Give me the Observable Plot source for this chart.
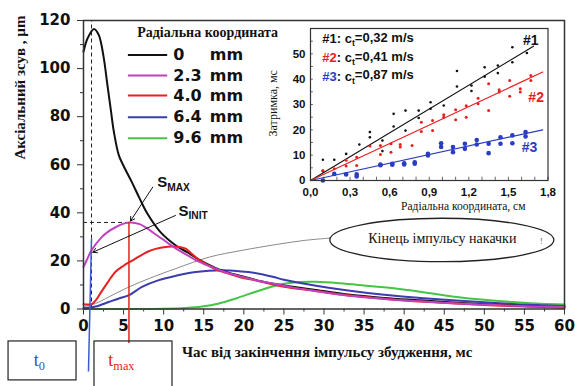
<!DOCTYPE html>
<html><head><meta charset="utf-8">
<script src="https://cdn.jsdelivr.net/npm/d3@7"></script>
<script src="https://cdn.jsdelivr.net/npm/@observablehq/plot@0.6"></script>
<style>
body{margin:0;background:#fff}
#wrap{position:relative;width:575px;height:386px;overflow:hidden;background:#fff}
#wrap svg.main{position:absolute;left:0;top:0}
#wrap svg.inset{position:absolute;left:262px;top:21px}
</style></head><body><div id="wrap"></div>
<script>
// ---------- main chart data (time, ms -> axial displacement, µm) ----------
const t0mm = [0, 0.5, 1.3, 1.9, 2.5, 2.95, 3.4, 3.8, 4.4, 5, 6, 7, 8, 9.6, 11.7, 13, 14.4, 16.5, 18, 20, 23, 25, 29, 33, 37.5, 42, 46, 50, 54, 57, 60];
const v0mm = [107, 112.5, 116.5, 114, 105, 94, 83, 73.5, 64, 59.5, 53, 46, 39.5, 32, 26, 23.5, 20.5, 17, 15.2, 13.4, 10.9, 9.8, 7.9, 6.0, 4.6, 3.6, 2.7, 2.0, 1.4, 1.0, 0.7];
const t23 = [0, 0.5, 1, 2.3, 3, 4, 5, 5.9, 7, 7.75, 8.8, 9.8, 10.8, 11.9, 13, 14, 15.2, 16.5, 18, 19.8, 21.5, 23.6, 26, 29, 33, 37.5, 42, 46, 50, 54, 57, 60];
const v23 = [17.5, 21, 24.4, 30, 32, 34, 35.5, 36, 35.3, 34, 31.5, 29.2, 26.8, 24.4, 22.3, 20.3, 18.5, 16.8, 15.0, 13.4, 12, 10.6, 9, 7.4, 5.5, 4.2, 3.2, 2.4, 1.8, 1.3, 1.0, 0.8];
const t40 = [0, 1, 1.5, 2.2, 3, 4, 5, 6, 7, 8, 9, 10, 11, 12, 12.8, 13.5, 14.4, 15.5, 16.5, 18, 19.8, 21, 23.6, 25, 29, 33, 37.5, 42, 46, 50, 54, 57, 60];
const v40 = [2, 2, 3.5, 7, 11, 15.5, 18, 20, 22, 23.8, 25, 25.7, 26, 25.8, 25, 23, 20.5, 18.3, 16.5, 14.8, 13, 12.3, 10.2, 9.3, 7.5, 5.7, 4.3, 3.1, 2.4, 1.7, 1.1, 0.8, 0.5];
const t64 = [0, 1.5, 3.2, 4.5, 5.7, 7.3, 9.4, 11.5, 14, 17.3, 19.8, 21, 23.6, 25, 29, 33, 37.5, 42, 46, 50, 54, 57, 60];
const v64 = [0.3, 1, 3, 4.5, 5.8, 9.2, 12, 13.8, 15.4, 16.1, 15.6, 15.2, 13.4, 12.2, 9.7, 7.7, 5.9, 4.6, 3.6, 2.8, 2.0, 1.6, 1.3];
const t96 = [0, 5, 10, 12.75, 14.8, 16.9, 19, 21.5, 24, 25, 27, 29, 32, 35, 37.5, 42, 46, 50, 54, 57, 60];
const v96 = [0, 0, 0.1, 0.4, 1, 2.3, 4.4, 7.2, 9.8, 10.5, 11.2, 11.3, 10.7, 9.8, 9, 7.2, 5.2, 3.8, 2.8, 2.2, 1.9];
const tPump = [0, 1.5, 3.2, 5.7, 8.2, 11.5, 15.7, 19.8, 24, 27.5, 30.8];
const vPump = [1, 2.3, 5.1, 9.2, 12.7, 16.8, 21.6, 24.4, 26.8, 28.5, 29.5];

const yMajor = [0, 20, 40, 60, 80, 100, 120];
const yMinor = [10, 30, 50, 70, 90, 110];
const xMajor = [0, 5, 10, 15, 20, 25, 30, 35, 40, 45, 50, 55, 60];
const xMinor = [2.5, 7.5, 12.5, 17.5, 22.5, 27.5, 32.5, 37.5, 42.5, 47.5, 52.5, 57.5];

const legendTitle = "Радіальна координата";
const legendLabels = ["0", "2.3", "4.0", "6.4", "9.6"];
const legendColors = ["#111111", "#c040c0", "#e82020", "#3a3cb0", "#45c445"];
const legendRowV = [105.7, 97.1, 88.8, 79.8, 71.0];
const legendLineT = [5.6, 10.5];

// annotation values
const tInit = 1.0, tMax = 5.67, sMax = 36;
const xTitle = "Час від закінчення імпульсу збудження, мс";
const yTitle = "Аксіальний зсув , µm";
const pumpNote = "Кінець імпульсу накачки";
const pumpEllipse = {t: 44.76, v: 28.5, rt: 13.97, rv: 9.03};

// ---------- inset data (radial coordinate, cm -> delay, ms) ----------
const r1 = [0.094, 0.094, 0.18, 0.27, 0.37, 0.45, 0.45, 0.545, 0.545, 0.63, 0.63, 0.72, 0.72, 0.82, 0.82, 0.91, 0.91, 1.01, 1.11, 1.11, 1.22, 1.22, 1.32, 1.32, 1.42, 1.42, 1.53, 1.53, 1.64];
const d1 = [8.2, 3.7, 8.2, 10.5, 14.2, 19.1, 17.1, 15.8, 11.6, 26.3, 21.3, 27.6, 19.7, 27.6, 24.7, 30.9, 28.3, 29.6, 43.2, 37.1, 37.5, 35.3, 44.7, 41, 45.4, 42.4, 52.6, 46.7, 50.3];
const r2 = [0.094, 0.18, 0.27, 0.27, 0.35, 0.35, 0.45, 0.53, 0.53, 0.61, 0.61, 0.68, 0.68, 0.77, 0.84, 0.84, 0.925, 0.925, 1.01, 1.01, 1.1, 1.1, 1.18, 1.18, 1.27, 1.27, 1.35, 1.35, 1.43, 1.43, 1.51, 1.51, 1.59, 1.59, 1.67, 1.67];
const d2 = [3.9, 4.6, 8, 5.7, 9.2, 5.9, 13.6, 13.8, 10.3, 14.5, 11.2, 14.2, 13.2, 13.8, 23, 19.3, 23.7, 19.7, 26, 25, 27.9, 24, 29.5, 25, 32.5, 30.3, 38.2, 27.6, 35.8, 34.9, 39.5, 33.3, 36.2, 34.9, 41.4, 39.5];
const r3 = [0.094, 0.18, 0.27, 0.35, 0.35, 0.53, 0.53, 0.62, 0.62, 0.71, 0.71, 0.79, 0.79, 0.89, 0.89, 0.99, 0.99, 1.08, 1.08, 1.17, 1.17, 1.26, 1.26, 1.35, 1.35, 1.44, 1.44, 1.53, 1.53, 1.63, 1.63];
const d3v = [0, 2.6, 2.4, 2.4, 1.6, 6.3, 6, 6.6, 6.2, 6.8, 6.3, 7.2, 6.6, 10.5, 9.9, 14.7, 13.2, 13.2, 11.2, 14.5, 12.5, 16, 14.2, 14.5, 10.8, 17.1, 14.5, 17.8, 14.7, 19.1, 17.4];
const fitR = [[0, 1.69], [0, 1.76], [0, 1.76]];
const fitD = [[0, 53], [0, 42.8], [0, 20]];
const insetColors = ["#111111", "#e82020", "#2a3cc0"];
const insetNames = ["#1", "#2", "#3"];
const insetSpeeds = [": c|t|=0,32 m/s", ": c|t|=0,41 m/s", ": c|t|=0,87 m/s"];
const insetLegendV = [55.9, 48.4, 41.0];
const insetTagR = [1.67, 1.71, 1.66];
const insetTagD = [55.2, 32.9, 13.1];
const insetXTicks = [0, 0.3, 0.6, 0.9, 1.2, 1.5, 1.8];
const insetXMinor = [0.1, 0.2, 0.4, 0.5, 0.7, 0.8, 1.0, 1.1, 1.3, 1.4, 1.6, 1.7];
const insetYTicks = [0, 10, 20, 30, 40, 50];
const insetYMinor = [5, 15, 25, 35, 45, 55];
const insetXTitle = "Радіальна координата, см";
const insetYTitle = "Затримка, мс";

const SERIF = "Liberation Serif, Times New Roman, serif";
const SANS = "Liberation Sans, Arial, sans-serif";

function subscripts(svg) {
  d3.select(svg).selectAll("text").each(function () {
    const s = this.textContent;
    if (!s.includes("|")) return;
    const [a, b, c] = s.split("|");
    const el = d3.select(this);
    el.text(null);
    el.append("tspan").text(a);
    el.append("tspan").attr("dy", "0.32em").attr("font-size", "68%").text(b);
    if (c) el.append("tspan").attr("dy", "-0.32em").text(c);
  });
}

const line = (t, v, stroke, w = 2) => Plot.line(v, {x: t, y: v, stroke, strokeWidth: w, curve: "catmull-rom"});

const main = Plot.plot({
  width: 575, height: 386,
  marginLeft: 83, marginRight: 11, marginTop: 20, marginBottom: 77.5,
  x: {domain: [0, 60]},
  y: {domain: [0, 120]},
  color: {type: "identity"},
  style: {fontFamily: "DejaVu Sans", fontSize: "15px", fontWeight: "bold", color: "#111", background: "white"},
  marks: [
    Plot.axisY({ticks: yMajor, tickSize: 6, tickPadding: 7, label: null, stroke: "#333"}),
    Plot.axisY({ticks: yMinor, tickSize: 3, tickFormat: () => "", label: null, stroke: "#333"}),
    Plot.axisX({ticks: xMajor, tickSize: 6, tickPadding: 5, label: null, stroke: "#333"}),
    Plot.axisX({ticks: xMinor, tickSize: 3, tickFormat: () => "", label: null, stroke: "#333"}),
    Plot.ruleX([tInit], {y1: 0, y2: 120, stroke: "#222", strokeWidth: 1, strokeDasharray: "4,3"}),
    Plot.ruleY([sMax], {x1: 0, x2: tMax, stroke: "#222", strokeWidth: 1, strokeDasharray: "4,3"}),
    line(tPump, vPump, "#8a8a8a", 1),
    line(t96, v96, legendColors[4]),
    line(t64, v64, legendColors[3]),
    line(t0mm, v0mm, legendColors[0]),
    line(t40, v40, legendColors[2]),
    line(t23, v23, legendColors[1]),
    Plot.frame({stroke: "#333", strokeWidth: 1.5}),
    // legend
    Plot.ruleY(legendRowV, {x1: legendLineT[0], x2: legendLineT[1], stroke: legendColors, strokeWidth: 2}),
    Plot.text(legendLabels, {x: 11.2, y: legendRowV, text: d => d, textAnchor: "start", fontSize: 16}),
    Plot.text(legendLabels, {x: 15.75, y: legendRowV, text: () => "mm", textAnchor: "start", fontSize: 16}),
    Plot.text([legendTitle], {x: 6.7, y: 114.9, text: d => d, textAnchor: "start", fontFamily: SERIF, fontSize: 14}),
    // annotations
    Plot.ruleX([tMax], {y1: sMax, y2: -14.35, stroke: "#e82020", strokeWidth: 1.5}),
    Plot.link([0], {x1: tInit, y1: 29.3, x2: 0.62, y2: -26, stroke: "#3a5cd0", strokeWidth: 1.5}),
    Plot.arrow([0], {x1: 8.64, y1: 50.7, x2: 5.86, y2: 36.6, stroke: "#111", strokeWidth: 1, headLength: 7}),
    Plot.arrow([0], {x1: 11.47, y1: 38.9, x2: 1.16, y2: 23.6, stroke: "#111", strokeWidth: 1, headLength: 7}),
    Plot.text(["S|MAX"], {x: 9.2, y: 52.6, text: d => d, textAnchor: "start", fontFamily: SANS, fontSize: 15}),
    Plot.text(["S|INIT"], {x: 11.85, y: 40.6, text: d => d, textAnchor: "start", fontFamily: SANS, fontSize: 15}),
    Plot.rect([{a: -9.35, b: -0.87, c: -13.5, d: -29.7}], {x1: "a", x2: "b", y1: "c", y2: "d", fill: "none", stroke: "#222", strokeWidth: 1.2}),
    Plot.rect([{a: 1.37, b: 11.1, c: -13.5, d: -34}], {x1: "a", x2: "b", y1: "c", y2: "d", fill: "none", stroke: "#222", strokeWidth: 1.2}),
    Plot.text(["t|0"], {x: -6.2, y: -21.2, text: d => d, textAnchor: "start", fontFamily: SERIF, fontWeight: "normal", fontSize: 18, fill: "#3a4cc0"}),
    Plot.text(["t|max"], {x: 3.1, y: -21.2, text: d => d, textAnchor: "start", fontFamily: SERIF, fontWeight: "normal", fontSize: 18, fill: "#e82020"}),
    Plot.text([pumpNote], {x: pumpEllipse.t, y: 29.5, text: d => d, fontFamily: SERIF, fontWeight: "normal", fontSize: 14}),
    Plot.text(["!"], {x: 57.1, y: 28.3, text: d => d, fontFamily: SERIF, fontWeight: "normal", fontSize: 8, fill: "#555"}),
    Plot.text([xTitle], {x: 12.3, y: -18.1, text: d => d, textAnchor: "start", fontFamily: SERIF, fontSize: 15}),
    Plot.text([yTitle], {x: -7.86, y: 92.1, text: d => d, rotate: -90, fontFamily: SERIF, fontSize: 15})
  ]
});
main.classList.add("main");
{
  const sx = main.scale("x"), sy = main.scale("y");
  const cx = sx.apply(pumpEllipse.t), cy = sy.apply(pumpEllipse.v);
  d3.select(main).append("ellipse")
    .attr("cx", cx).attr("cy", cy)
    .attr("rx", sx.apply(pumpEllipse.t + pumpEllipse.rt) - cx)
    .attr("ry", cy - sy.apply(pumpEllipse.v + pumpEllipse.rv))
    .attr("fill", "none").attr("stroke", "#222").attr("stroke-width", 1.3);
}
subscripts(main);

const fmtComma = d => d.toFixed(1).replace(".", ",");
const inset = Plot.plot({
  width: 301, height: 194,
  marginLeft: 48, marginRight: 15.5, marginTop: 7, marginBottom: 35,
  x: {domain: [0, 1.8]},
  y: {domain: [0, 60]},
  style: {fontFamily: SANS, fontSize: "11.5px", fontWeight: "bold", color: "#111", background: "transparent"},
  marks: [
    Plot.ruleX(insetXMinor.concat(insetXTicks), {y1: 0, y2: 1.3, stroke: "#444", strokeWidth: 0.8}),
    Plot.ruleY(insetYMinor.concat(insetYTicks), {x1: 0, x2: 0.022, stroke: "#444", strokeWidth: 0.8}),
    Plot.axisX({ticks: insetXTicks, tickSize: 0, tickPadding: 7, tickFormat: fmtComma, label: null}),
    Plot.axisY({ticks: insetYTicks, tickSize: 0, tickPadding: 5, label: null}),
    Plot.line(fitD[0], {x: fitR[0], y: fitD[0], stroke: insetColors[0], strokeWidth: 1.2}),
    Plot.line(fitD[1], {x: fitR[1], y: fitD[1], stroke: insetColors[1], strokeWidth: 1.2}),
    Plot.line(fitD[2], {x: fitR[2], y: fitD[2], stroke: insetColors[2], strokeWidth: 1.2}),
    Plot.dot(d1, {x: r1, y: d1, r: 1.3, fill: insetColors[0]}),
    Plot.dot(d2, {x: r2, y: d2, r: 1.5, fill: insetColors[1]}),
    Plot.dot(d3v, {x: r3, y: d3v, r: 2.3, fill: insetColors[2]}),
    Plot.frame({stroke: "#333", strokeWidth: 1.2}),
    Plot.text(insetNames, {x: 0.089, y: insetLegendV, text: d => d, textAnchor: "start", fontSize: 13, fill: insetColors}),
    Plot.text(insetSpeeds, {x: 0.089, y: insetLegendV, dx: 14.5, text: d => d, textAnchor: "start", fontSize: 13}),
    Plot.text(insetNames, {x: insetTagR, y: insetTagD, text: d => d, fontSize: 14, fill: insetColors}),
    Plot.text([insetXTitle], {x: 1.158, y: -10.2, text: d => d, fontFamily: SERIF, fontWeight: "normal", fontSize: 11.5}),
    Plot.text([insetYTitle], {frameAnchor: "left", y: 17.4, dx: -37.5, text: d => d, rotate: -90, fontFamily: SERIF, fontWeight: "normal", fontSize: 12})
  ],
  color: {type: "identity"}
});
inset.classList.add("inset");
subscripts(inset);

const wrap = document.getElementById("wrap");
wrap.appendChild(main);
wrap.appendChild(inset);
</script>
</body></html>
